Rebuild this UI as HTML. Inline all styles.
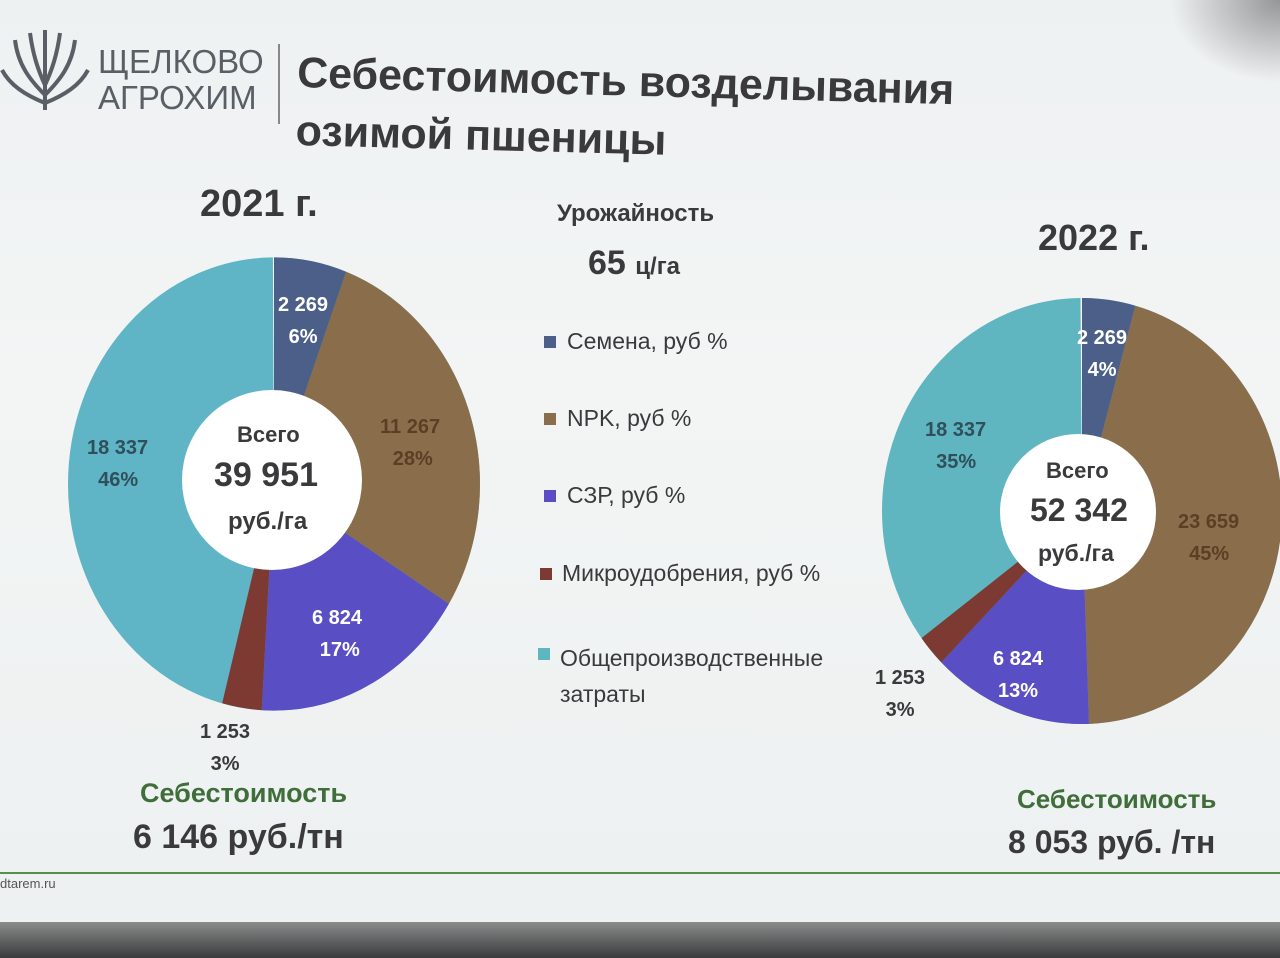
<!DOCTYPE html>
<html><head><meta charset="utf-8"><style>
html,body{margin:0;padding:0}
body{width:1280px;height:958px;overflow:hidden;position:relative;font-family:"Liberation Sans","DejaVu Sans",sans-serif;
background:linear-gradient(180deg,#eef1f2 0%,#f3f5f5 40%,#eef1f1 90%);}
.t{position:absolute;white-space:nowrap;font-weight:bold;color:#3a3a3c}
.g{color:#3f6e3a}
.w{color:#fff}
.lg{position:absolute;font-size:23px;color:#3a3a3c;white-space:nowrap}
.sq{position:absolute;width:12px;height:12px}
</style></head><body>
<div style="position:absolute;left:0;top:0;width:1280px;height:958px;background:radial-gradient(ellipse at 1280px 0px,rgba(60,60,60,.5) 0,rgba(60,60,60,0) 110px)"></div>
<div style="position:absolute;left:0;top:922px;width:1280px;height:36px;background:linear-gradient(180deg,#8a8c8c,#3a3b3c)"></div>
<div style="position:absolute;left:0;top:872px;width:1280px;height:2px;background:#5a8f4a"></div>
<div class="t" style="left:0;top:876px;font-size:13px;font-weight:normal;color:#555">dtarem.ru</div>

<svg style="position:absolute;left:0;top:25px" width="90" height="90" viewBox="0 0 90 90">
<g fill="none" stroke="#5a5f66" stroke-width="4">
<path d="M45 85 C45 60 45 30 45 5"/><path d="M45 70 C30 55 18 40 15 15"/><path d="M45 70 C60 55 72 40 75 15"/>
<path d="M45 78 C25 70 10 60 2 45"/><path d="M45 78 C65 70 80 60 88 45"/><path d="M45 60 C38 45 33 30 30 8"/><path d="M45 60 C52 45 57 30 60 8"/></g></svg>
<div class="t" style="left:98px;top:44px;font-size:33px;font-weight:normal;color:#5a5f66;line-height:36px">ЩЕЛКОВО<br>АГРОХИМ</div>
<div style="position:absolute;left:278px;top:44px;width:2px;height:80px;background:#888"></div>
<div class="t" style="left:298px;top:44px;font-size:43px;line-height:58px;transform:rotate(1.5deg);transform-origin:left top">Себестоимость возделывания<br>озимой пшеницы</div>

<div class="t" style="left:200px;top:183px;font-size:38px">2021 г.</div>
<div class="t" style="left:1038px;top:217px;font-size:36px">2022 г.</div>
<div class="t" style="left:557px;top:200px;font-size:24px">Урожайность</div>
<div class="t" style="left:588px;top:244px;font-size:34px">65 <span style="font-size:24px">ц/га</span></div>

<svg style="position:absolute;left:0;top:0" width="1280" height="958">
<g transform="translate(274,484) scale(1,1.1) rotate(-90)" fill="none" stroke-width="206">
<circle r="103" pathLength="100" stroke="#5fb5c6" stroke-dasharray="100 100"/>
<circle r="103" pathLength="100" stroke="#4b5f88" stroke-dasharray="5.7 200"/>
<circle r="103" pathLength="100" stroke="#8a6e4c" stroke-dasharray="28.2 200" stroke-dashoffset="-5.7"/>
<circle r="103" pathLength="100" stroke="#5a4ec4" stroke-dasharray="17.1 200" stroke-dashoffset="-33.9"/>
<circle r="103" pathLength="100" stroke="#7c3a33" stroke-dasharray="3.1 200" stroke-dashoffset="-51"/>
</g>
<circle cx="272" cy="480" r="90" fill="#fff"/>
<g transform="translate(1082,511) scale(1,1.065) rotate(-90)" fill="none" stroke-width="200">
<circle r="100" pathLength="100" stroke="#5fb5c0" stroke-dasharray="100 100"/>
<circle r="100" pathLength="100" stroke="#4b5f88" stroke-dasharray="4.3 200"/>
<circle r="100" pathLength="100" stroke="#8a6e4c" stroke-dasharray="45.2 200" stroke-dashoffset="-4.3"/>
<circle r="100" pathLength="100" stroke="#5a4ec4" stroke-dasharray="13 200" stroke-dashoffset="-49.5"/>
<circle r="100" pathLength="100" stroke="#7c3a33" stroke-dasharray="2.4 200" stroke-dashoffset="-62.5"/>
</g>
<circle cx="1078" cy="512" r="78" fill="#fff"/>
</svg>

<div class="t" style="left:237px;top:422px;font-size:22px">Всего</div>
<div class="t" style="left:214px;top:456px;font-size:34px">39 951</div>
<div class="t" style="left:228px;top:508px;font-size:24px">руб./га</div>
<div class="t" style="left:1046px;top:458px;font-size:22px">Всего</div>
<div class="t" style="left:1030px;top:492px;font-size:32px">52 342</div>
<div class="t" style="left:1038px;top:540px;font-size:23px">руб./га</div>

<div class="t w" style="left:278px;top:289px;font-size:20px;text-align:center;line-height:32px">2 269<br>6%</div>
<div class="t" style="left:380px;top:411px;font-size:20px;text-align:center;line-height:32px;color:#5a3f25">11 267<br>&nbsp;28%</div>
<div class="t w" style="left:312px;top:602px;font-size:20px;text-align:center;line-height:32px">6 824<br>&nbsp;17%</div>
<div class="t" style="left:87px;top:432px;font-size:20px;line-height:32px;color:#2f4f5a">18 337<br>&nbsp;&nbsp;46%</div>
<div class="t" style="left:200px;top:716px;font-size:20px;line-height:32px;text-align:center">1 253<br>3%</div>

<div class="t w" style="left:1077px;top:322px;font-size:20px;line-height:32px;text-align:center">2 269<br>4%</div>
<div class="t" style="left:1178px;top:506px;font-size:20px;line-height:32px;color:#5a3f25">23 659<br>&nbsp;&nbsp;45%</div>
<div class="t w" style="left:993px;top:643px;font-size:20px;line-height:32px;text-align:center">6 824<br>13%</div>
<div class="t" style="left:925px;top:414px;font-size:20px;line-height:32px;color:#2f4f5a">18 337<br>&nbsp;&nbsp;35%</div>
<div class="t" style="left:875px;top:662px;font-size:20px;line-height:32px;text-align:center">1 253<br>3%</div>

<div class="sq" style="left:544px;top:336px;background:#4b5f88"></div><div class="lg" style="left:567px;top:328px">Семена, руб %</div>
<div class="sq" style="left:544px;top:413px;background:#8a6e4c"></div><div class="lg" style="left:567px;top:405px">NPK, руб %</div>
<div class="sq" style="left:544px;top:490px;background:#5a4ec4"></div><div class="lg" style="left:567px;top:482px">СЗР, руб %</div>
<div class="sq" style="left:540px;top:568px;background:#7c3a33"></div><div class="lg" style="left:562px;top:560px">Микроудобрения, руб %</div>
<div class="sq" style="left:538px;top:648px;background:#5fb5c0"></div><div class="lg" style="left:560px;top:640px;line-height:36px">Общепроизводственные<br>затраты</div>

<div class="t g" style="left:140px;top:778px;font-size:27px">Себестоимость</div>
<div class="t" style="left:133px;top:818px;font-size:34px">6 146 руб./тн</div>
<div class="t g" style="left:1017px;top:784px;font-size:26px">Себестоимость</div>
<div class="t" style="left:1008px;top:824px;font-size:32px">8 053 руб. /тн</div>
</body></html>
